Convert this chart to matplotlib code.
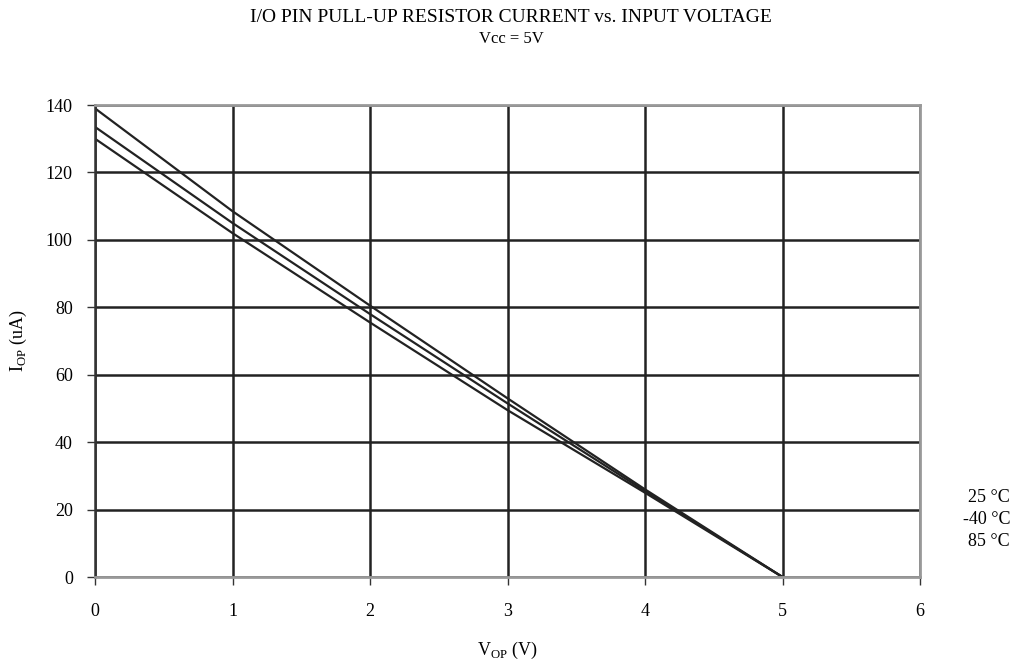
import numpy as np
import matplotlib
matplotlib.use("Agg")
from matplotlib import pyplot as plt

plt.rcParams['font.family'] = ['Liberation Serif', 'DejaVu Serif']

# values
v_op = [0, 1, 2, 3, 4, 5]
i_top = [139, 108.5, 80.5, 53, 26, 0]
i_mid = [133.5, 105, 78, 51.5, 25.5, 0]
i_bot = [130, 102, 75.5, 49.5, 25, 0]
labels = ["25 \u00b0C", "-40 \u00b0C", "85 \u00b0C"]

fig = plt.figure(figsize=(10.22, 6.67), dpi=100)
ax = fig.add_axes([95 / 1022, 90 / 667, 825 / 1022, 472 / 667])

for y in (i_top, i_mid, i_bot):
    ax.plot(v_op, y, color="#222222", lw=1.6, solid_capstyle="butt")

ax.set_xlim(0, 6)
ax.set_ylim(0, 140)
ax.set_xticks(range(0, 7))
ax.set_yticks(range(0, 141, 20))
ax.grid(True, color="#222222", lw=1.8)
ax.set_axisbelow(True)

for s in ("top", "right", "bottom"):
    ax.spines[s].set_color("#999999")
    ax.spines[s].set_linewidth(2)
ax.spines["left"].set_color("#333333")
ax.spines["left"].set_linewidth(1.8)
ax.tick_params(direction="out", length=6, width=1, color="#333333",
               labelsize=13, pad=10)
ax.tick_params(axis="x", pad=13)

ax.set_xlabel("V$_{\\mathregular{OP}}$ (V)", fontsize=13, labelpad=14)
ax.set_ylabel("I$_{\\mathregular{OP}}$ (uA)", fontsize=13, labelpad=12)

fig.text(0.5, 1 - 18 / 667, "I/O PIN PULL-UP RESISTOR CURRENT vs. INPUT VOLTAGE",
         ha="center", va="center", fontsize=14)
fig.text(0.5, 1 - 39 / 667, "Vcc = 5V", ha="center", va="center", fontsize=12)

for k, lab in enumerate(labels):
    fig.text(1010 / 1022, 1 - (498 + 22 * k) / 667, lab, ha="right",
             va="center", fontsize=13)

fig.savefig("out.png", dpi=100)
